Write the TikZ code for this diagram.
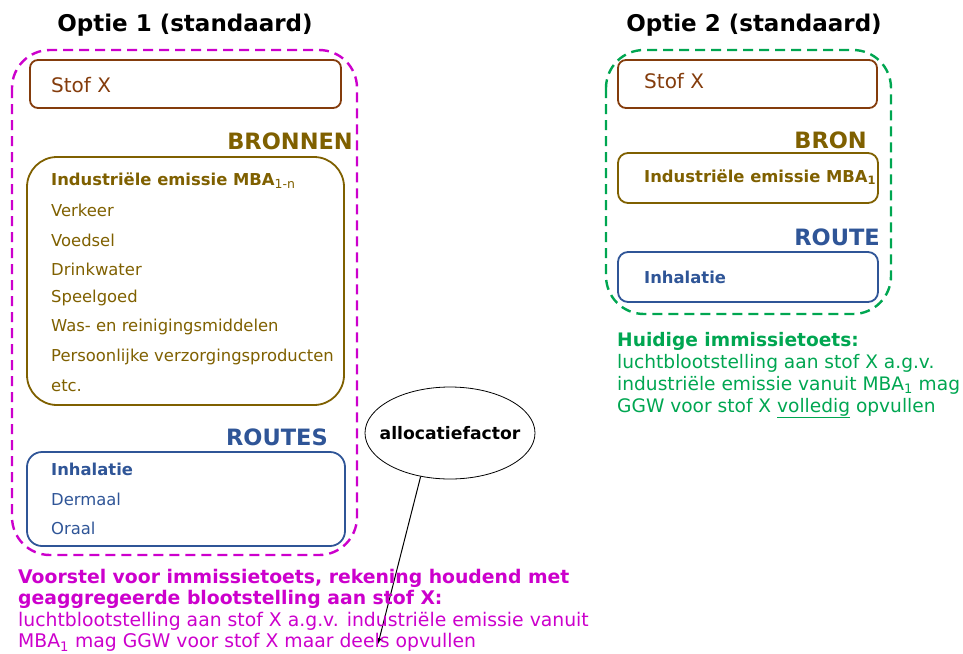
\documentclass[tikz,border=0pt]{standalone}
\usepackage{fontspec}
\setmainfont{DejaVu Sans}
\usetikzlibrary{shapes.geometric}
\definecolor{roze}{HTML}{CC00CC}
\definecolor{groen}{HTML}{00A651}
\definecolor{bruin}{HTML}{843C0C}
\definecolor{olijf}{HTML}{7F6000}
\definecolor{blauw}{HTML}{2F5597}
\begin{document}
\begin{tikzpicture}[
    x=1pt, y=-1pt,
    titel/.style={font=\fontsize{23}{27}\selectfont\bfseries, text=black},
    kop/.style={anchor=east, font=\fontsize{22.5}{26}\selectfont\bfseries, inner sep=0pt},
    vak/.style={draw, line width=1.8pt, rounded corners=#1},
    vak/.default=8pt,
    item/.style={anchor=west, inner sep=0pt, font=\fontsize{16.4}{19}\selectfont},
    vet/.style={item, font=\fontsize{16.4}{19}\selectfont\bfseries},
    optie/.style={draw, line width=2.4pt, dash pattern=on 10pt off 6pt, rounded corners=38pt},
    tekst/.style={anchor=north west, align=left, inner sep=0pt, font=\fontsize{18.8}{21.5}\selectfont},
    pijl/.style={-latex, line width=1pt}
]
\useasboundingbox (0,0) rectangle (963,653);

% Optie 1
\node[titel] (titel1) at (185,25) {Optie 1 (standaard)};
\draw[optie, roze] (12,50) rectangle (357,555);

\draw[vak, bruin] (30,60) rectangle (341,108);
\node[item, text=bruin, font=\fontsize{20}{24}\selectfont] (stof1) at (51,85) {Stof X};

\node[kop, text=olijf] (bronnen) at (353,141) {BRONNEN};
\draw[vak=30pt, olijf] (27,157) rectangle (344,405);
\node[vet, text=olijf] (mba1n) at (51,181) {Industriële emissie MBA\textsubscript{\mdseries\fontsize{12.5}{14}\selectfont 1-n}};
\node[item, text=olijf] (verkeer) at (51,210) {Verkeer};
\node[item, text=olijf] (voedsel) at (51,240) {Voedsel};
\node[item, text=olijf] (drinkwater) at (51,269) {Drinkwater};
\node[item, text=olijf] (speelgoed) at (51,298) {Speelgoed};
\node[item, text=olijf] (was) at (51,327) {Was- en reinigingsmiddelen};
\node[item, text=olijf] (verzorging) at (51,357) {Persoonlijke verzorgingsproducten};
\node[item, text=olijf] (etc) at (51,386) {etc.};

\node[kop, text=blauw] (routes) at (328,437) {ROUTES};
\draw[vak=15pt, blauw] (27,452) rectangle (345,546);
\node[vet, text=blauw] (inhalatie1) at (51,469) {Inhalatie};
\node[item, text=blauw] (dermaal) at (51,499) {Dermaal};
\node[item, text=blauw] (oraal) at (51,528) {Oraal};

% Allocatiefactor
\node[ellipse, draw, line width=0.8pt, inner sep=0pt, minimum width=170pt, minimum height=92pt] (alloc) at (450,433) {};
\node[font=\fontsize{17.2}{20}\selectfont\bfseries] (alloctekst) at (alloc.center) {allocatiefactor};
\coordinate (deels) at (378,644);
\draw[pijl] (alloc.236) -- (deels);

\node[tekst, text=roze] (voorstel) at (18,569) {\textbf{Voorstel voor immissietoets, rekening houdend met}\\
\textbf{geaggregeerde blootstelling aan stof X:}\\
luchtblootstelling aan stof X a.g.v. industriële emissie vanuit\\
MBA\textsubscript{1} mag GGW voor stof X maar deels opvullen};

% Optie 2
\node[titel] (titel2) at (754,25) {Optie 2 (standaard)};
\draw[optie, groen] (606,50) rectangle (891,314);

\draw[vak, bruin] (618,60) rectangle (877,108);
\node[item, text=bruin, font=\fontsize{20}{24}\selectfont] (stof2) at (644,81) {Stof X};

\node[kop, text=olijf] (bron) at (867,140) {BRON};
\draw[vak=10pt, olijf] (618,153) rectangle (878,203);
\node[vet, text=olijf] (mba1) at (644,177) {Industriële emissie MBA\textsubscript{1}};

\node[kop, text=blauw] (route) at (880,237) {ROUTE};
\draw[vak=10pt, blauw] (618,252) rectangle (878,302);
\node[vet, text=blauw] (inhalatie2) at (644,277) {Inhalatie};

\node[tekst, text=groen, font=\fontsize{18.6}{22}\selectfont] (huidig) at (617,332) {\textbf{Huidige immissietoets:}\\
luchtblootstelling aan stof X a.g.v.\\
industriële emissie vanuit MBA\textsubscript{1} mag\\
GGW voor stof X \underline{volledig} opvullen};
\end{tikzpicture}
\end{document}
